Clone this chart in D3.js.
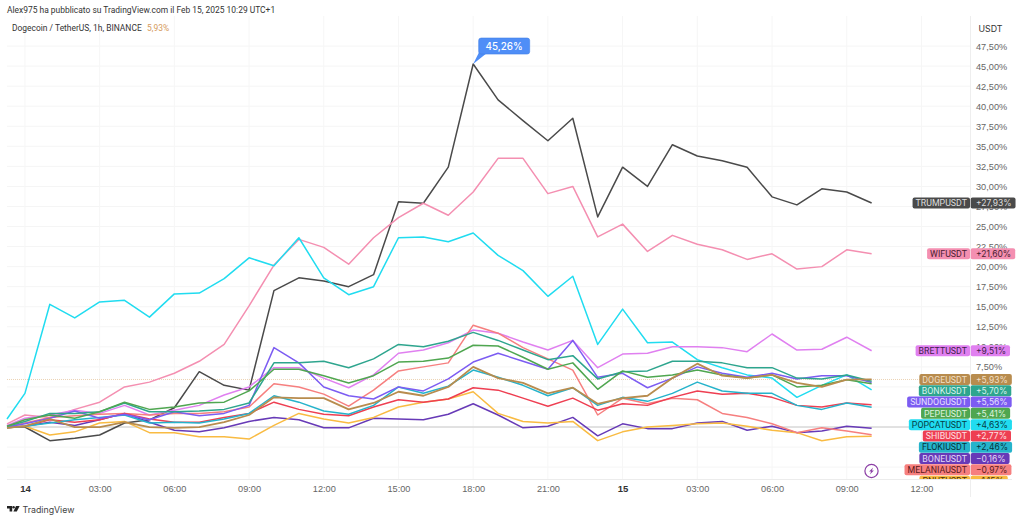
<!DOCTYPE html>
<html>
<head>
<meta charset="utf-8">
<script src="https://cdn.jsdelivr.net/npm/d3@7"></script>
<style>
  html,body{margin:0;padding:0;background:#fff;overflow:hidden;}
  svg{display:block;font-family:Inter,"Noto Sans",sans-serif;}
</style>
</head>
<body>
<svg id="chart" width="1024" height="521"></svg>
<script>
//Percent change per coin, hourly. First point is the partial candle at the left edge.
var hours = [-0.72,0,1,2,3,4,5,6,7,8,9,10,11,12,13,14,15,16,17,18,19,20,21,22,23,24,25,26,27,28,29,30,31,32,33,34];

var trump = [0,0,-1.7,-1.4,-1.0,0.5,0.9,2.4,6.9,5.2,4.6,17.0,18.6,18.2,17.5,19.0,28.1,27.9,32.4,45.26,40.8,38.2,35.7,38.5,26.2,32.4,30.0,35.2,33.8,33.2,32.4,28.7,27.7,29.7,29.3,27.93];
var wif = [0.4,1.5,1.2,2.2,3.1,5.0,5.6,6.7,8.2,10.3,15.1,20.2,23.4,22.4,20.3,23.6,26.1,27.9,26.4,29.3,33.5,33.5,29.1,30.0,23.7,25.3,21.9,23.9,22.8,22.1,20.9,21.6,19.7,20.0,22.1,21.60];
var popcat = [1.0,4.2,15.3,13.6,15.6,15.8,13.7,16.6,16.7,18.5,21.1,20.1,23.6,18.6,16.5,17.5,23.6,23.7,23.1,24.2,21.4,19.5,16.3,18.8,10.3,14.7,10.5,10.6,8.4,7.4,6.5,6.1,3.7,5.2,6.5,4.63];
var brett = [0.2,1.1,1.5,2.1,1.7,2.7,1.5,2.1,2.7,4.0,5.0,7.4,7.4,6.1,4.9,6.5,9.2,9.6,10.5,12.1,11.7,10.6,9.6,10.8,7.4,9.1,9.2,10.0,10.0,9.9,9.4,11.6,9.6,9.7,11.2,9.51];
var doge = [-0.1,0.1,1.0,0,0,0.6,0,-0.1,0,0.6,1.5,3.7,3.6,3.6,2.2,3.0,4.4,3.9,5.0,7.5,6.1,5.5,4.2,4.9,2.9,3.6,3.9,6.1,7.9,6.4,6.1,6.5,5.5,5.0,5.9,5.93];
var bonk = [0.1,0.7,1.7,1.7,1.9,3.0,1.9,1.9,2.0,2.2,3.0,8.0,8.0,8.2,7.4,8.5,10.3,10.0,10.7,11.8,10.8,9.6,8.4,8.9,6.0,6.9,7.0,8.2,8.2,8.0,7.4,7.4,6.1,6.0,6.5,5.70];
var sundog = [0,0.4,1.1,2.0,1.1,1.6,0.9,1.9,1.4,1.7,2.7,9.9,8.0,5.0,3.9,3.5,5.0,4.5,6.0,8.1,9.2,8.2,7.2,10.8,6.2,6.7,4.9,6.1,7.5,6.7,6.2,6.7,6.0,6.4,6.4,5.56];
var pepe = [0.1,0.9,1.5,1.1,1.9,3.1,2.2,2.5,3.0,3.1,4.5,7.2,7.2,6.4,5.5,6.4,8.1,8.2,8.6,10.2,10.1,8.7,7.2,8.0,4.7,7.0,6.2,6.5,7.1,6.5,6.1,6.5,5.0,5.2,5.9,5.41];
var shib = [-0.1,0.1,0.9,0.6,0.9,1.7,1.0,0.6,0.6,1.2,1.7,3.1,2.2,1.6,1.4,2.5,3.4,3.1,3.5,4.9,4.6,3.6,2.6,3.6,2.1,2.9,2.7,3.7,4.5,4.1,4.2,3.7,2.7,2.5,3.0,2.77];
var floki = [-0.1,0.1,0.5,0.9,1.2,1.5,0.5,0.6,0.5,1.0,1.7,3.9,3.1,2.0,1.6,2.7,5.0,4.2,5.1,7.1,6.2,5.2,3.9,4.9,2.7,3.7,3.2,4.2,5.6,4.5,4.2,4.2,2.7,2.2,3.0,2.46];
var bone = [0,0.1,0.6,0.2,0.9,1.7,0.6,-0.4,-0.6,-0.1,0.7,1.2,0.9,-0.1,-0.1,1.1,1.0,0.9,1.6,2.9,1.5,-0.1,0.1,1.2,-1.1,0.4,-0.2,-0.2,0.5,0.7,-0.4,0.1,-0.7,-0.5,0.1,-0.16];
var melania = [0,0.5,1.2,1.4,1.6,1.7,1.5,1.7,1.7,1.9,2.5,5.4,5.0,4.1,2.6,4.6,7.0,7.5,8.0,12.7,11.7,9.9,8.5,7.1,1.5,3.6,2.9,3.6,3.4,1.7,1.2,0.4,-0.7,-0.1,-0.5,-0.97];
var pnut = [-0.1,0.1,-1.0,-0.6,0.5,0.7,-0.7,-0.7,-1.2,-1.2,-1.5,0.2,1.7,1.0,0.5,1.2,2.5,3.1,3.5,4.4,1.7,0.7,0.5,0.7,-1.7,-0.6,0,0.2,0.4,0.5,0.1,-0.4,-0.7,-1.7,-1.2,-1.15];

//listed in the order the right hand labels stack
var names = ["TRUMPUSDT","WIFUSDT","BRETTUSDT","DOGEUSDT","BONKUSDT","SUNDOGUSDT","PEPEUSDT","POPCATUSDT","SHIBUSDT","FLOKIUSDT","BONEUSDT","MELANIAUSDT","PNUTUSDT"];
var values = [trump,wif,brett,doge,bonk,sundog,pepe,popcat,shib,floki,bone,melania,pnut];
var colors = ["#4a4a4a","#f48fb1","#e080f0","#b88c4e","#2ea58e","#7c5cf2","#4fa650","#20dcf0","#ee3f52","#25b3cb","#673ab7","#f67f7f","#f9bb42"];
var labelText = ["#ddd","#4a2030","#40204a","#f1dfc4","#d8f2ec","#e6e0ff","#dff2df","#063c44","#ffe0e3","#06343c","#e2d8f6","#5a1a1a","#4a3408"];

var drawOrder = ["TRUMPUSDT","WIFUSDT","POPCATUSDT","BRETTUSDT","BONEUSDT","PNUTUSDT","MELANIAUSDT","SHIBUSDT","FLOKIUSDT","SUNDOGUSDT","BONKUSDT","PEPEUSDT","DOGEUSDT"];

var xTickHours = [0,3,6,9,12,15,18,21,24,27,30,33,36];
var xTickLabels = ["14","03:00","06:00","09:00","12:00","15:00","18:00","21:00","15","03:00","06:00","09:00","12:00"];
var yGrid = [-5,-2.5,0,2.5,5,7.5,10,12.5,15,17.5,20,22.5,25,27.5,30,32.5,35,37.5,40,42.5,45,47.5];
//the lower ticks sit fully behind the value labels, so only these get text
var yTicks = [7.5,10,12.5,15,17.5,20,22.5,25,27.5,30,32.5,35,37.5,40,42.5,45,47.5];

var peakHour = 18, peakValue = 45.26, lastDoge = 5.93;

let svg = d3.select("#chart");
let left = 7, right = 970, top_ = 16, bottom = 479;

let xScale = d3.scaleLinear().domain([-0.72,37.95]).range([left,right]);
let yScale = d3.scaleLinear().domain([-6.48,51.25]).range([bottom,top_]);
let pct = v => (v<0 ? "\u2212" : "") + Math.abs(v).toFixed(2).replace(".",",") + "%";
let signed = v => (v<0 ? "\u2212" : "+") + Math.abs(v).toFixed(2).replace(".",",") + "%";

svg.append("clipPath").attr("id","pane").append("rect")
  .attr("x",0).attr("y",0).attr("width",1024).attr("height",bottom);

//grid
svg.append("g").selectAll("line").data(yGrid).enter().append("line")
  .attr("x1",left).attr("x2",right)
  .attr("y1",d => yScale(d)).attr("y2",d => yScale(d))
  .attr("stroke","#f5f5f5");
svg.append("g").selectAll("line").data(xTickHours).enter().append("line")
  .attr("x1",d => xScale(d)).attr("x2",d => xScale(d))
  .attr("y1",top_).attr("y2",bottom)
  .attr("stroke","#f6f6f6");

//frame
svg.append("line").attr("x1",left).attr("x2",1012).attr("y1",bottom+.5).attr("y2",bottom+.5).attr("stroke","#ececec");
svg.append("line").attr("x1",right+.5).attr("x2",right+.5).attr("y1",top_).attr("y2",497).attr("stroke","#eeeeee");

//zero and last price lines
svg.append("line").attr("x1",left).attr("x2",right)
  .attr("y1",yScale(0)).attr("y2",yScale(0))
  .attr("stroke","#c9c9c9");
svg.append("line").attr("x1",left).attr("x2",right)
  .attr("y1",yScale(lastDoge)).attr("y2",yScale(lastDoge))
  .attr("stroke","#ecd3b4").attr("stroke-dasharray","1 1");

//axes
let yAxis = d3.axisRight(yScale).tickValues(yTicks).tickFormat(pct).tickSize(0).tickPadding(0);
let yG = svg.append("g").attr("transform","translate(976,0)").call(yAxis);
yG.select(".domain").remove();
yG.selectAll("text").attr("font-size","9.2px").attr("fill","#666");

let xAxis = d3.axisBottom(xScale).tickValues(xTickHours).tickFormat((d,i) => xTickLabels[i]).tickSize(0).tickPadding(0);
let xG = svg.append("g").attr("transform","translate(0,485)").call(xAxis);
xG.select(".domain").remove();
xG.selectAll("text")
  .attr("font-size",d => d%24==0 ? "9.5px" : "9.2px")
  .attr("font-weight",d => d%24==0 ? 700 : 400)
  .attr("fill",d => d%24==0 ? "#333" : "#666");

//series
let line = d3.line().x((d,i) => xScale(hours[i])).y(d => yScale(d));
svg.append("g").selectAll("path").data(drawOrder).enter().append("path")
  .attr("d",d => line(values[names.indexOf(d)]))
  .attr("fill","none")
  .attr("stroke",d => colors[names.indexOf(d)])
  .attr("stroke-width",d => d=="DOGEUSDT" ? 1.8 : 1.5)
  .attr("stroke-linejoin","round");

//last value labels, pushed down so they don't overlap
let labelH = 11, labelStep = 11.3;
let labels = svg.append("g").attr("clip-path","url(#pane)");
let prevY = -100;
names.forEach(function(name,i){
  let v = values[i][values[i].length-1];
  let cy = Math.max(yScale(v),prevY+labelStep);
  prevY = cy;
  let g = labels.append("g");
  let nameRect = g.append("rect").attr("fill",colors[i]).attr("rx",2)
    .attr("y",cy-labelH/2).attr("height",labelH);
  let valRect = g.append("rect").attr("fill",colors[i]).attr("rx",2)
    .attr("x",right+.5).attr("y",cy-labelH/2).attr("height",labelH);
  let nameText = g.append("text").text(name)
    .attr("x",right-3).attr("y",cy+3.2)
    .attr("text-anchor","end").attr("font-family","Roboto").attr("font-size","8.8px").attr("fill",labelText[i]);
  let valText = g.append("text").text(signed(v))
    .attr("x",right+6).attr("y",cy+3.2)
    .attr("font-size","8.5px").attr("fill",labelText[i]);
  let w = nameText.node().getComputedTextLength();
  nameRect.attr("x",right-w-6).attr("width",w+6);
  valRect.attr("width",valText.node().getComputedTextLength()+9.5);
  g.append("line").attr("x1",right+.5).attr("x2",right+.5)
    .attr("y1",cy-labelH/2).attr("y2",cy+labelH/2).attr("stroke","#fff").attr("stroke-opacity",.35);
});

svg.append("text").text("USDT").attr("x",978.5).attr("y",32.2).attr("font-size","8.8px").attr("fill","#333");

//peak callout
let px = xScale(peakHour), py = yScale(peakValue);
svg.append("path")
  .attr("d","M"+px+","+py+"L"+(px+6)+","+(py-12)+"L"+(px+15)+","+(py-12)+"Z")
  .attr("fill","#4f8ef7");
svg.append("rect").attr("x",px+5.5).attr("y",py-26).attr("width",51).attr("height",16).attr("rx",2.5)
  .attr("fill","#4f8ef7").attr("stroke","#3f7fe8").attr("stroke-width",.6);
svg.append("text").text(pct(peakValue))
  .attr("x",px+31).attr("y",py-14.2).attr("text-anchor","middle")
  .attr("font-size","9.8px").attr("font-weight",500).attr("fill","#fff");

//header
svg.append("text").text("Alex975 ha pubblicato su TradingView.com il Feb 15, 2025 10:29 UTC+1")
  .attr("x",7).attr("y",13.2).attr("font-family","Roboto").attr("font-size","8.45px").attr("fill","#333");
svg.append("text").text("Dogecoin / TetherUS, 1h, BINANCE")
  .attr("x",12).attr("y",31.3).attr("font-family","Roboto").attr("font-size","8.45px").attr("fill","#333");
svg.append("text").text(pct(lastDoge))
  .attr("x",147).attr("y",31.3).attr("font-family","Roboto").attr("font-size","8.45px").attr("fill","#d59a5c");

//bolt badge
let bolt = svg.append("g").attr("transform","translate(871.5,471)");
bolt.append("circle").attr("r",6.6).attr("fill","#fff").attr("stroke","#8c3fa6").attr("stroke-width",1.2);
bolt.append("path").attr("d","M1.6,-3.6L-2.4,0.6L-0.4,0.6L-1.6,3.6L2.4,-0.6L0.4,-0.6Z").attr("fill","#8c3fa6");

//TradingView logo
let logo = svg.append("g").attr("transform","translate(7,506)").attr("fill","#222");
logo.append("path").attr("d","M0,0H5.2V5.6H2.6V2.4H0Z");
logo.append("circle").attr("cx",6.6).attr("cy",1.2).attr("r",1.2);
logo.append("path").attr("d","M9,0H12.6L9.8,5.6H6.4Z");
svg.append("text").text("TradingView").attr("x",22.5).attr("y",513)
  .attr("font-size","8.8px").attr("fill","#444");
</script>
</body>
</html>
